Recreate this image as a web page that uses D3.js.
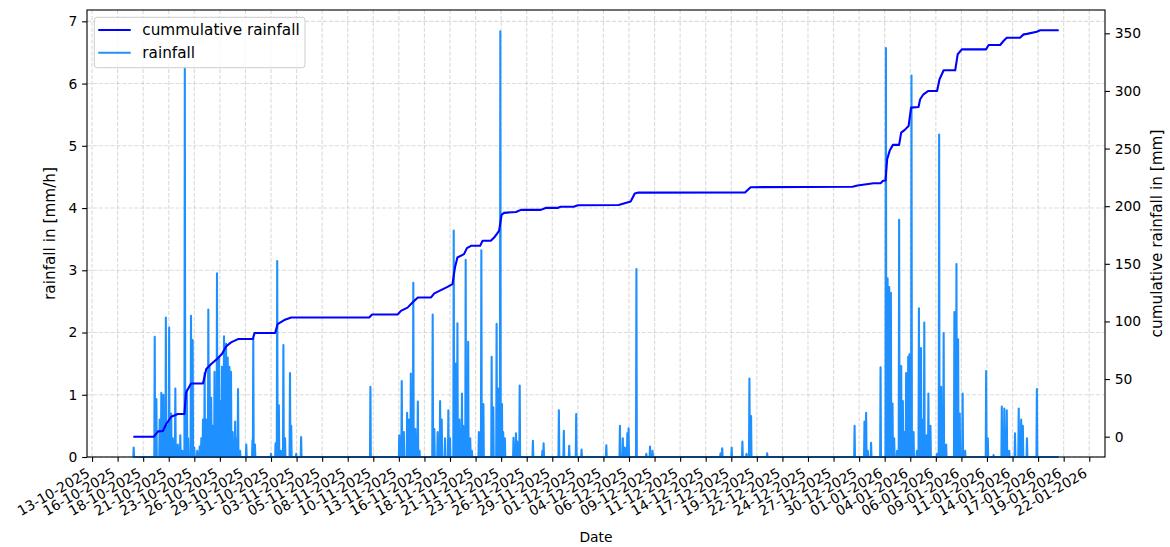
<!DOCTYPE html>
<html>
<head>
<meta charset="utf-8">
<script src="https://cdn.jsdelivr.net/npm/d3@7"></script>
<style>
  html, body { margin: 0; padding: 0; background: #ffffff; }
  svg { display: block; font-family: "DejaVu Sans", sans-serif; }
</style>
</head>
<body>
<svg id="chart" width="1170" height="547"></svg>
<script>
// Hourly record boundaries (local time)
const seriesStart = "2025-10-17T16";
const seriesEnd = "2026-01-19T04";

// Hourly rainfall intensity in mm/h; every hour not listed here had no rain
const rainfall = [
  ["2025-10-17T17", 0.15], ["2025-10-19T20", 1.93], ["2025-10-20T00", 0.93], ["2025-10-20T08", 0.6],
  ["2025-10-20T12", 1.03], ["2025-10-20T17", 1.0], ["2025-10-20T23", 2.24], ["2025-10-21T03", 0.5],
  ["2025-10-21T07", 2.08], ["2025-10-21T12", 0.7], ["2025-10-21T16", 0.3], ["2025-10-21T22", 1.1],
  ["2025-10-22T04", 0.2], ["2025-10-22T10", 0.35], ["2025-10-22T15", 0.1], ["2025-10-22T21", 6.24],
  ["2025-10-23T02", 1.07], ["2025-10-23T05", 0.3], ["2025-10-23T12", 2.27], ["2025-10-23T16", 1.88],
  ["2025-10-23T20", 0.15], ["2025-10-24T03", 0.1], ["2025-10-24T09", 0.17], ["2025-10-24T13", 0.3],
  ["2025-10-24T17", 0.6], ["2025-10-24T21", 1.35], ["2025-10-25T01", 0.6], ["2025-10-25T06", 2.37],
  ["2025-10-25T09", 1.45], ["2025-10-25T13", 0.95], ["2025-10-25T17", 0.5], ["2025-10-25T21", 1.37],
  ["2025-10-26T00", 0.7], ["2025-10-26T03", 2.95], ["2025-10-26T08", 1.6], ["2025-10-26T12", 0.9],
  ["2025-10-26T15", 1.45], ["2025-10-26T20", 1.94], ["2025-10-27T01", 1.82], ["2025-10-27T05", 1.6],
  ["2025-10-27T09", 1.45], ["2025-10-27T13", 1.37], ["2025-10-27T17", 0.4], ["2025-10-27T23", 0.57],
  ["2025-10-28T03", 0.3], ["2025-10-28T06", 1.09], ["2025-10-28T11", 0.1], ["2025-10-29T02", 0.2],
  ["2025-10-29T17", 0.27], ["2025-10-29T19", 1.91], ["2025-10-29T23", 0.2], ["2025-10-31T14", 0.05],
  ["2025-11-01T01", 0.22], ["2025-11-01T05", 3.15], ["2025-11-01T09", 0.83], ["2025-11-01T14", 0.1],
  ["2025-11-01T20", 1.8], ["2025-11-02T00", 0.3], ["2025-11-02T12", 1.35], ["2025-11-02T15", 0.5],
  ["2025-11-03T03", 0.05], ["2025-11-03T15", 0.32], ["2025-11-10T15", 1.13], ["2025-11-13T13", 0.35],
  ["2025-11-13T19", 1.22], ["2025-11-14T00", 0.4], ["2025-11-14T08", 0.71], ["2025-11-14T12", 0.6],
  ["2025-11-14T17", 1.34], ["2025-11-14T23", 2.8], ["2025-11-15T04", 0.45], ["2025-11-15T10", 0.89],
  ["2025-11-15T14", 0.1], ["2025-11-16T22", 2.29], ["2025-11-17T02", 0.45], ["2025-11-17T10", 0.4],
  ["2025-11-17T16", 0.9], ["2025-11-17T20", 0.6], ["2025-11-18T04", 0.3], ["2025-11-18T12", 0.75],
  ["2025-11-18T16", 0.3], ["2025-11-19T01", 3.64], ["2025-11-19T06", 1.5], ["2025-11-19T10", 2.15],
  ["2025-11-19T15", 0.6], ["2025-11-19T21", 1.02], ["2025-11-20T00", 0.5], ["2025-11-20T06", 3.17],
  ["2025-11-20T12", 1.85], ["2025-11-20T17", 0.3], ["2025-11-20T21", 0.1], ["2025-11-21T14", 0.4],
  ["2025-11-21T20", 3.32], ["2025-11-22T01", 0.85], ["2025-11-22T21", 1.61], ["2025-11-23T01", 0.8],
  ["2025-11-23T09", 2.14], ["2025-11-23T13", 1.1], ["2025-11-23T18", 6.84], ["2025-11-23T22", 0.85],
  ["2025-11-24T01", 0.4], ["2025-11-24T05", 0.3], ["2025-11-25T02", 0.31], ["2025-11-25T08", 0.38],
  ["2025-11-25T11", 0.25], ["2025-11-25T17", 1.15], ["2025-11-27T01", 0.26], ["2025-11-28T00", 0.1],
  ["2025-11-28T03", 0.22], ["2025-11-29T16", 0.75], ["2025-11-30T04", 0.42], ["2025-11-30T17", 0.18],
  ["2025-12-01T10", 0.69], ["2025-12-01T23", 0.12], ["2025-12-04T11", 0.19], ["2025-12-05T20", 0.5],
  ["2025-12-06T03", 0.3], ["2025-12-06T08", 0.15], ["2025-12-06T14", 0.38], ["2025-12-06T17", 0.46],
  ["2025-12-07T12", 3.02], ["2025-12-08T12", 0.05], ["2025-12-08T21", 0.17], ["2025-12-09T03", 0.1],
  ["2025-12-16T00", 0.06], ["2025-12-16T04", 0.14], ["2025-12-17T03", 0.15], ["2025-12-18T05", 0.25],
  ["2025-12-18T15", 0.05], ["2025-12-18T22", 1.26], ["2025-12-19T02", 0.66], ["2025-12-20T17", 0.06],
  ["2025-12-29T13", 0.5], ["2025-12-30T13", 0.57], ["2025-12-30T17", 0.71], ["2025-12-30T21", 0.1],
  ["2025-12-31T05", 0.23], ["2026-01-01T04", 1.44], ["2026-01-01T17", 6.57], ["2026-01-01T21", 2.87],
  ["2026-01-02T01", 2.73], ["2026-01-02T05", 2.64], ["2026-01-02T09", 0.86], ["2026-01-02T13", 0.3],
  ["2026-01-02T20", 0.1], ["2026-01-03T01", 3.81], ["2026-01-03T06", 1.46], ["2026-01-03T10", 0.9],
  ["2026-01-03T14", 0.4], ["2026-01-03T18", 1.35], ["2026-01-03T23", 1.61], ["2026-01-04T02", 1.65],
  ["2026-01-04T07", 6.13], ["2026-01-04T12", 0.4], ["2026-01-04T20", 0.1], ["2026-01-05T01", 2.39],
  ["2026-01-05T06", 1.75], ["2026-01-05T11", 0.6], ["2026-01-05T14", 2.16], ["2026-01-05T19", 0.35],
  ["2026-01-06T00", 1.02], ["2026-01-06T05", 0.5], ["2026-01-06T21", 0.05], ["2026-01-07T02", 5.18],
  ["2026-01-07T07", 1.13], ["2026-01-07T13", 1.99], ["2026-01-07T19", 0.2], ["2026-01-08T15", 2.33],
  ["2026-01-08T20", 3.1], ["2026-01-09T00", 1.89], ["2026-01-09T04", 0.7], ["2026-01-09T11", 1.02],
  ["2026-01-09T17", 0.1], ["2026-01-11T20", 1.38], ["2026-01-12T00", 0.3], ["2026-01-12T14", 0.03],
  ["2026-01-13T10", 0.81], ["2026-01-13T16", 0.78], ["2026-01-13T22", 0.75], ["2026-01-14T04", 0.1],
  ["2026-01-14T18", 0.38], ["2026-01-15T03", 0.78], ["2026-01-15T09", 0.6], ["2026-01-15T13", 0.5],
  ["2026-01-15T23", 0.3], ["2026-01-16T23", 1.09]
];

// Running total of rainfall in mm
const cumulative = [
  ["2025-10-17T16", 0], ["2025-10-19T18", 0], ["2025-10-20T04", 4.6], ["2025-10-20T16", 5],
  ["2025-10-21T00", 11], ["2025-10-21T12", 17.3], ["2025-10-22T04", 19.7], ["2025-10-22T20", 19.7],
  ["2025-10-23T00", 38.4], ["2025-10-23T12", 46.2], ["2025-10-24T17", 46.2], ["2025-10-25T01", 58.7],
  ["2025-10-25T13", 63], ["2025-10-26T03", 67.4], ["2025-10-26T15", 71.7], ["2025-10-27T01", 78.3],
  ["2025-10-27T13", 81.8], ["2025-10-28T06", 84.7], ["2025-10-29T18", 84.7], ["2025-10-29T22", 89.9],
  ["2025-11-01T00", 89.9], ["2025-11-01T06", 97.7], ["2025-11-01T22", 101.2], ["2025-11-02T15", 103.4],
  ["2025-11-10T12", 103.4], ["2025-11-10T19", 106], ["2025-11-13T09", 106], ["2025-11-13T17", 109.2],
  ["2025-11-14T09", 112], ["2025-11-14T21", 116.4], ["2025-11-15T10", 120.8], ["2025-11-16T18", 120.8],
  ["2025-11-17T02", 124.3], ["2025-11-17T18", 127.2], ["2025-11-18T10", 130], ["2025-11-18T22", 132.4],
  ["2025-11-19T04", 146.8], ["2025-11-19T10", 155.5], ["2025-11-20T02", 158.4], ["2025-11-20T09", 163.6],
  ["2025-11-20T19", 165.6], ["2025-11-21T17", 165.6], ["2025-11-21T23", 170], ["2025-11-22T19", 170],
  ["2025-11-23T03", 172.8], ["2025-11-23T15", 178.6], ["2025-11-23T21", 192.5], ["2025-11-24T03", 194.2],
  ["2025-11-25T08", 195], ["2025-11-25T20", 196.8], ["2025-11-27T20", 196.8], ["2025-11-28T08", 198.5],
  ["2025-11-29T13", 198.5], ["2025-11-29T20", 199.5], ["2025-12-01T04", 199.5], ["2025-12-01T14", 200.8],
  ["2025-12-05T17", 201], ["2025-12-06T22", 204], ["2025-12-07T08", 211], ["2025-12-07T17", 211.8],
  ["2025-12-18T12", 212], ["2025-12-19T01", 216.5], ["2025-12-29T08", 216.8], ["2025-12-29T20", 218],
  ["2025-12-30T18", 219.1], ["2025-12-31T11", 219.9], ["2026-01-01T04", 219.9], ["2026-01-01T10", 222],
  ["2026-01-01T16", 222.3], ["2026-01-01T20", 240.7], ["2026-01-02T02", 248], ["2026-01-02T10", 253.2],
  ["2026-01-03T01", 253.2], ["2026-01-03T06", 263.8], ["2026-01-03T14", 266], ["2026-01-04T00", 269.6],
  ["2026-01-04T06", 285.5], ["2026-01-05T00", 286], ["2026-01-05T04", 292.8], ["2026-01-05T12", 297.1],
  ["2026-01-06T00", 300], ["2026-01-06T21", 300], ["2026-01-07T03", 310.1], ["2026-01-07T13", 317.9],
  ["2026-01-08T17", 317.9], ["2026-01-08T23", 331.8], ["2026-01-09T09", 336.1], ["2026-01-11T20", 336.1],
  ["2026-01-12T02", 339.9], ["2026-01-13T06", 339.9], ["2026-01-13T14", 343.3], ["2026-01-13T22", 346.2],
  ["2026-01-15T06", 346.2], ["2026-01-15T15", 349.1], ["2026-01-15T23", 349.5], ["2026-01-16T23", 351.4],
  ["2026-01-17T07", 352.6], ["2026-01-19T04", 352.6]
];

// Date axis: first tick time, spacing in hours, and the printed labels
const tickStart = "2025-10-13T12";
const tickStepHours = 62;
const tickLabels = [
  "13-10-2025", "16-10-2025", "18-10-2025", "21-10-2025", "23-10-2025", "26-10-2025", "29-10-2025",
  "31-10-2025", "03-11-2025", "05-11-2025", "08-11-2025", "10-11-2025", "13-11-2025", "16-11-2025",
  "18-11-2025", "21-11-2025", "23-11-2025", "26-11-2025", "29-11-2025", "01-12-2025", "04-12-2025",
  "06-12-2025", "09-12-2025", "11-12-2025", "14-12-2025", "17-12-2025", "19-12-2025", "22-12-2025",
  "24-12-2025", "27-12-2025", "30-12-2025", "01-01-2026", "04-01-2026", "06-01-2026", "09-01-2026",
  "11-01-2026", "14-01-2026", "17-01-2026", "19-01-2026", "22-01-2026"
];
const rainTicks = [0, 1, 2, 3, 4, 5, 6, 7];
const cumulativeTicks = [0, 50, 100, 150, 200, 250, 300, 350];

const parseHour = d3.timeParse("%Y-%m-%dT%H");

// Plot frame
const L = 87, R = 1105, T = 10, B = 457;
const PT = 100 / 72;        // points to pixels
const FS = 10 * PT;         // tick labels and x title
const FS_LARGE = 11 * PT;   // y titles and legend
const lw = 1.5 * PT;        // line width of both series

// Hourly series: zero except at recorded hours
const rainByHour = new Map(rainfall.map(([t, v]) => [+parseHour(t), v]));
const t0 = parseHour(seriesStart), t1 = parseHour(seriesEnd);
const hours = d3.timeHour.range(t0, d3.timeHour.offset(t1, 1));
const rainSeries = hours.map(h => ({ t: h, v: rainByHour.get(+h) ?? 0 }));
const cumSeries = cumulative.map(([t, v]) => ({ t: parseHour(t), v }));

// Scales, with 5% padding around the data like the plotting defaults
const span = t1 - t0;
const x = d3.scaleTime()
  .domain([new Date(+t0 - 0.05 * span), new Date(+t1 + 0.05 * span)])
  .range([L, R]);
const rainMax = d3.max(rainSeries, d => d.v);
const yRain = d3.scaleLinear().domain([0, rainMax * 1.05]).range([B, T]);
const cMin = d3.min(cumSeries, d => d.v), cMax = d3.max(cumSeries, d => d.v);
const cPad = 0.05 * (cMax - cMin);
const yCum = d3.scaleLinear().domain([cMin - cPad, cMax + cPad]).range([B, T]);

const tickDates = tickLabels.map((_, i) => d3.timeHour.offset(parseHour(tickStart), i * tickStepHours));

const svg = d3.select("#chart");

// Dashed grid
const grid = svg.append("g")
  .attr("stroke", "#b0b0b0").attr("stroke-opacity", 0.45)
  .attr("stroke-width", 0.8 * PT).attr("stroke-dasharray", "4.1,1.8");
grid.selectAll("line.v").data(tickDates).join("line")
  .attr("x1", d => x(d)).attr("x2", d => x(d)).attr("y1", T).attr("y2", B);
grid.selectAll("line.h").data(rainTicks).join("line")
  .attr("x1", L).attr("x2", R).attr("y1", d => yRain(d)).attr("y2", d => yRain(d));

// Rainfall line
svg.append("path")
  .datum(rainSeries)
  .attr("fill", "none").attr("stroke", "#1e90ff").attr("stroke-width", lw)
  .attr("stroke-linejoin", "round")
  .attr("d", d3.line().x(d => x(d.t)).y(d => yRain(d.v)));

// Frame
svg.append("rect")
  .attr("x", L).attr("y", T).attr("width", R - L).attr("height", B - T)
  .attr("fill", "none").attr("stroke", "#000").attr("stroke-width", 0.8 * PT);

// Cumulative line
svg.append("path")
  .datum(cumSeries)
  .attr("fill", "none").attr("stroke", "#0000ff").attr("stroke-width", lw)
  .attr("stroke-linejoin", "round")
  .attr("d", d3.line().x(d => x(d.t)).y(d => yCum(d.v)));

function styleAxis(g) {
  g.select(".domain").remove();
  g.selectAll(".tick line").attr("stroke", "#000").attr("stroke-width", 0.8 * PT);
  g.selectAll(".tick text").attr("fill", "#000").style("font-size", FS + "px")
    .style("font-family", "DejaVu Sans, sans-serif");
}

const tickLen = 3.5 * PT, tickPad = 3.5 * PT;

// Date axis with slanted labels
const xAxis = svg.append("g").attr("transform", `translate(0,${B})`)
  .call(d3.axisBottom(x).tickValues(tickDates).tickFormat((d, i) => tickLabels[i])
    .tickSize(tickLen).tickSizeOuter(0));
styleAxis(xAxis);
xAxis.selectAll(".tick text")
  .attr("x", 0).attr("y", 0).attr("dy", null)
  .attr("text-anchor", "end")
  .attr("transform", `translate(-1.6,${tickLen + tickPad + 9.1}) rotate(-30)`);

// Rainfall axis (left)
const yAxisL = svg.append("g").attr("transform", `translate(${L},0)`)
  .call(d3.axisLeft(yRain).tickValues(rainTicks).tickFormat(d3.format("d"))
    .tickSize(tickLen).tickPadding(tickPad).tickSizeOuter(0));
styleAxis(yAxisL);

// Cumulative axis (right)
const yAxisR = svg.append("g").attr("transform", `translate(${R},0)`)
  .call(d3.axisRight(yCum).tickValues(cumulativeTicks).tickFormat(d3.format("d"))
    .tickSize(tickLen).tickPadding(tickPad).tickSizeOuter(0));
styleAxis(yAxisR);

// Axis titles
const title = (txt, tx, ty, rot, size) => svg.append("text")
  .attr("transform", `translate(${tx},${ty}) rotate(${rot})`)
  .attr("text-anchor", "middle").attr("dominant-baseline", "central")
  .style("font-size", size + "px").attr("fill", "#000").text(txt);
title("rainfall in [mm/h]", 50, (T + B) / 2, -90, FS_LARGE);
title("cumulative rainfall in [mm]", 1157, (T + B) / 2, -90, FS_LARGE);
title("Date", (L + R) / 2, 537, 0, FS);

// Legend
const lg = svg.append("g");
lg.append("rect")
  .attr("x", 94.3).attr("y", 17.3).attr("width", 210.7).attr("height", 50.4)
  .attr("rx", 2.8).attr("fill", "#fff").attr("fill-opacity", 0.8)
  .attr("stroke", "#cccccc").attr("stroke-width", 1);
const entries = [
  { label: "cummulative rainfall", color: "#0000ff", y: 30 },
  { label: "rainfall", color: "#1e90ff", y: 52.7 }
];
entries.forEach(e => {
  lg.append("line").attr("x1", 99.3).attr("x2", 129.7).attr("y1", e.y).attr("y2", e.y)
    .attr("stroke", e.color).attr("stroke-width", lw).attr("stroke-linecap", "square");
  lg.append("text").attr("x", 142.3).attr("y", e.y).attr("dominant-baseline", "central")
    .style("font-size", FS_LARGE + "px").attr("fill", "#000").text(e.label);
});
</script>
</body>
</html>
